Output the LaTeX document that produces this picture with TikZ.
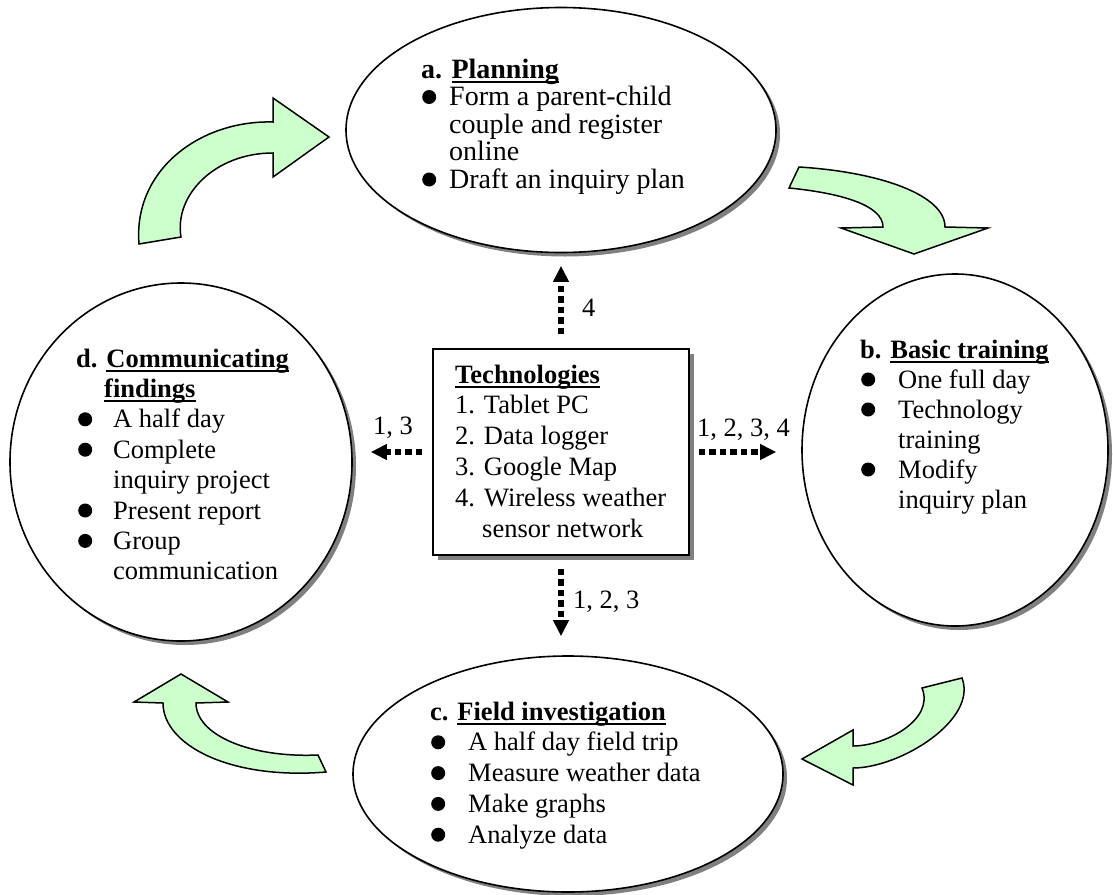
\documentclass[tikz,border=0pt]{standalone}
\usepackage{fontspec}
\setmainfont{Liberation Serif}
\usetikzlibrary{shapes.geometric,arrows.meta}
\newcommand\ulx[1]{\setbox0\hbox{#1}\rlap{\rule[-4.5pt]{\wd0}{1.8pt}}\box0}
\definecolor{arrowgreen}{HTML}{CCFFCC}
\newcommand\bul{\tikz[baseline=0pt]\fill[black] (7pt,8.5pt) circle[radius=7pt];}
\newcommand\bi[2]{\makebox[#1][l]{\hspace{#2}\bul}}
\newcommand\lines[1]{\vtop{\lineskiplimit=-\maxdimen\lineskip=0pt\halign{##\hfil\cr#1\crcr}}}
\tikzset{
  ell/.style={ellipse, draw=black, line width=1.6pt, fill=white, inner sep=0pt},
  ellshadow/.style={ellipse, fill=black!50, inner sep=0pt},
  techbox/.style={rectangle, draw=black, line width=1.5pt, fill=white, inner sep=0pt},
  boxshadow/.style={rectangle, fill=black!50, inner sep=0pt},
  txt/.style={anchor=base west, inner sep=0pt},
  lbl/.style={anchor=base west, inner sep=0pt, font=\fontsize{26.5}{30}\selectfont},
  dotarrow/.style={line width=6pt, dash pattern=on 6.5pt off 4pt, -{Triangle[length=16pt,width=15pt]}},
  greenarrow/.style={fill=arrowgreen, draw=black, line width=1.5pt, line join=miter},
}
\begin{document}
\begin{tikzpicture}[x=1pt,y=-1pt]
\useasboundingbox (0,0) rectangle (1113,894);
% ellipses with shadows
\node[ellshadow, minimum width=430pt, minimum height=245pt] (sa) at (565,134) {};
\node[ell, minimum width=430pt, minimum height=245pt] (pa) at (561,130) {};
\node[ellshadow, minimum width=306pt, minimum height=352pt] (sb) at (959,454) {};
\node[ell, minimum width=306pt, minimum height=352pt] (pb) at (955,450) {};
\node[ellshadow, minimum width=430pt, minimum height=236pt] (sc) at (572,778) {};
\node[ell, minimum width=430pt, minimum height=236pt] (pc) at (568,774) {};
\node[ellshadow, minimum width=342pt, minimum height=358pt] (sd) at (185,466) {};
\node[ell, minimum width=342pt, minimum height=358pt] (pd) at (181,462) {};
% central box
\node[boxshadow, minimum width=256pt, minimum height=206pt] (stech) at (566,457) {};
\node[techbox, minimum width=256pt, minimum height=206pt] (tech) at (561,452) {};
% texts
\node[txt] (ta) at (421,78) {\fontsize{28}{27.5}\selectfont\lines{%
\textbf{a. \ulx{Planning}}\cr
\bi{28pt}{1pt}Form a parent-child\cr
\hspace{28pt}couple and register\cr
\hspace{28pt}online\cr
\bi{28pt}{1pt}Draft an inquiry plan}};
\node[txt] (tb) at (860,358) {\fontsize{26.5}{30}\selectfont\lines{%
\textbf{b. \ulx{Basic training}}\cr
\bi{38pt}{1pt}One full day\cr
\bi{38pt}{1pt}Technology\cr
\hspace{38pt}training\cr
\bi{38pt}{1pt}Modify\cr
\hspace{38pt}inquiry plan}};
\node[txt] (tc) at (430,720) {\fontsize{26.5}{30.8}\selectfont\lines{%
\textbf{c. \ulx{Field investigation}}\cr
\bi{38pt}{1pt}A half day field trip\cr
\bi{38pt}{1pt}Measure weather data\cr
\bi{38pt}{1pt}Make graphs\cr
\bi{38pt}{1pt}Analyze data}};
\node[txt] (td) at (76,367) {\fontsize{26.5}{30.4}\selectfont\lines{%
\textbf{d. \ulx{Communicating}}\cr
\textbf{\hphantom{d.}\ \ulx{findings}}\cr
\bi{37pt}{2pt}A half day\cr
\bi{37pt}{2pt}Complete\cr
\hspace{37pt}inquiry project\cr
\bi{37pt}{2pt}Present report\cr
\bi{37pt}{2pt}Group\cr
\hspace{37pt}communication}};
\node[txt] (ttech) at (455,383) {\fontsize{26.5}{30.8}\selectfont\lines{%
\textbf{\ulx{Technologies}}\cr
1. Tablet PC\cr
2. Data logger\cr
3. Google Map\cr
4.\hspace{9pt}Wireless weather\cr
\hspace{27pt}sensor network}};
% dotted connectors
\draw[dotarrow, shorten <=14pt, shorten >=12.5pt] (tech.north) -- (tech.north |- pa.south);
\draw[dotarrow, shorten <=13pt, shorten >=19pt] (tech.south) -- (tech.south |- pc.north);
\draw[dotarrow, shorten <=10pt, shorten >=18pt] (tech.west) -- (tech.west -| pd.east);
\draw[dotarrow, shorten <=9pt, shorten >=25pt] (tech.east) -- (tech.east -| pb.west);
\node[lbl] (l4) at (582,316) {4};
\node[lbl] (l123) at (573,608) {1, 2, 3};
\node[lbl] (l13) at (373,434) {1, 3};
\node[lbl] (l1234) at (697,436) {1, 2, 3, 4};
% curved green arrows
\draw[greenarrow] (139,244) .. controls (133,170) and (200,120) .. (273,122) -- (273,98) -- (329,137) -- (273,177) -- (273,153) .. controls (215,153) and (174,195) .. (181,237) -- cycle;
\draw[greenarrow] (799,167) .. controls (880,172) and (945,195) .. (945,227) -- (988,228) -- (914,254) -- (841,228) -- (883,227) .. controls (883,205) and (840,193) .. (789,188) -- cycle;
\draw[greenarrow] (962,678) .. controls (978,720) and (900,768) .. (853,768) -- (853,785) -- (802,759) -- (853,730) -- (853,746) .. controls (885,746) and (935,720) .. (922,688) -- cycle;
\draw[greenarrow] (326,772) .. controls (230,780) and (163,745) .. (163,703) -- (134,702) -- (181,674) -- (228,702) -- (196,703) .. controls (196,735) and (250,758) .. (318,755) -- cycle;
\end{tikzpicture}
\end{document}
